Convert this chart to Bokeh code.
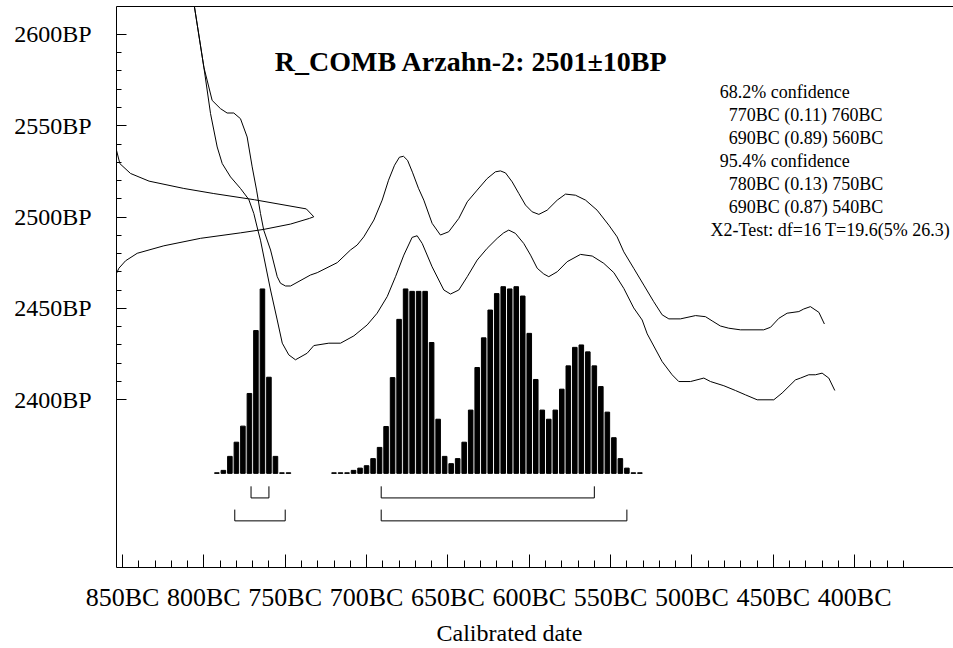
from bokeh.plotting import figure
from bokeh.models import Range1d, LinearAxis, FixedTicker, Label, Title
from bokeh.embed import file_html
from bokeh.resources import INLINE

# ---------------- data ----------------
# calibration curve, upper line (years BC, BP)
upper_bc = [806, 800.0, 794.9, 789.8, 785.7, 781.6, 777.5, 773.4, 770.3, 767.6, 765.2, 763.2,
            759.0, 754.9, 752.9, 749.8, 746.7, 734.5, 730.3, 718.0, 709.9, 705.8, 701.7, 695.5,
            690.4, 686.5, 682.8, 679.8, 677.3, 674.8, 671.8, 668.1, 664.8, 659.7, 654.6, 649.5,
            643.3, 638.1, 632.0, 625.9, 620.8, 617.7, 614.6, 610.5, 606.4, 602.3, 598.2, 594.1,
            589.0, 582.8, 577.7, 571.6, 565.4, 558.3, 551.1, 546.0, 541.9, 535.8, 529.6, 523.5,
            518.3, 514.2, 507.1, 497.8, 491.7, 487.6, 482.5, 477.4, 470.2, 455.9, 451.7, 446.6,
            441.5, 434.3, 431.3, 427.2, 422.0, 418.6]
upper_bp = [2616.4, 2582.1, 2563.9, 2559.4, 2557.0, 2557.0, 2553.9, 2543.9, 2527.5, 2514.8, 2502.0, 2492.9,
            2482.0, 2467.4, 2463.8, 2462.3, 2462.3, 2468.3, 2469.6, 2475.1, 2482.0, 2484.7, 2489.2, 2498.4,
            2509.3, 2520.2, 2528.4, 2532.8, 2533.3, 2531.1, 2524.6, 2515.8, 2509.3, 2496.6, 2490.2, 2492.0,
            2499.3, 2508.4, 2514.8, 2521.1, 2524.8, 2525.3, 2524.2, 2519.3, 2512.9, 2506.6, 2502.9, 2501.5,
            2503.8, 2509.3, 2512.6, 2512.0, 2509.3, 2503.8, 2495.6, 2489.2, 2481.0, 2472.0, 2462.8, 2453.7,
            2446.5, 2444.3, 2444.3, 2446.1, 2445.5, 2443.2, 2440.4, 2439.2, 2438.3, 2438.3, 2439.7, 2444.6,
            2447.4, 2448.3, 2449.7, 2451.0, 2447.9, 2441.5]

# calibration curve, lower line
lower_bc = [806, 800.0, 795.9, 791.8, 788.7, 783.6, 777.5, 772.4, 769.3, 766.8, 765.2, 759.0,
            754.9, 751.8, 747.8, 743.7, 736.5, 732.4, 723.2, 716.0, 707.8, 699.6, 693.5, 687.3,
            682.2, 677.1, 672.0, 668.9, 665.8, 659.7, 652.5, 648.4, 643.3, 638.1, 632.0, 625.9,
            619.7, 615.7, 612.6, 608.5, 603.4, 599.2, 595.1, 591.1, 588.0, 582.8, 576.7, 568.5,
            561.3, 554.2, 548.0, 541.9, 535.8, 530.6, 527.5, 518.3, 512.2, 508.1, 500.9, 492.7,
            488.6, 480.4, 473.3, 467.1, 459.9, 449.7, 444.6, 436.4, 433.3, 428.2, 424.1, 420.0,
            415.9, 412.2]
lower_bp = [2616.4, 2582.1, 2556.7, 2538.4, 2529.3, 2522.0, 2515.7, 2509.7, 2502.0, 2492.9, 2487.4, 2460.1,
            2443.7, 2431.0, 2424.6, 2421.9, 2425.5, 2429.7, 2431.0, 2431.0, 2435.0, 2441.0, 2447.4, 2456.5,
            2467.4, 2479.2, 2488.9, 2489.8, 2485.6, 2472.8, 2460.1, 2457.9, 2460.1, 2467.4, 2476.5, 2482.9,
            2488.4, 2491.4, 2492.9, 2491.1, 2485.6, 2479.2, 2472.0, 2468.9, 2467.4, 2470.1, 2475.6, 2479.6,
            2478.7, 2474.7, 2469.6, 2461.0, 2450.3, 2443.7, 2436.1, 2420.9, 2413.7, 2410.0, 2410.0, 2411.9,
            2410.0, 2407.7, 2405.1, 2402.7, 2400.0, 2400.0, 2403.7, 2410.9, 2411.9, 2413.7, 2413.7, 2414.6,
            2411.9, 2405.1]

# radiocarbon date distribution (BP, relative density)
gauss_bp = [2536.6, 2529.3, 2523.9, 2519.7, 2515.7, 2512.9, 2509.5, 2504.5, 2500.2, 2499.3,
            2496.2, 2493.3, 2491.4, 2488.4, 2484.3, 2480.2, 2476.1, 2472.0, 2469.2]
gauss_dens = [0.0, 0.017, 0.071, 0.165, 0.341, 0.493, 0.70, 0.962, 1.0, 0.978,
              0.882, 0.747, 0.629, 0.426, 0.240, 0.105, 0.046, 0.012, 0.0]

# calibrated probability histogram (years BC, relative probability)
hist_bc = [792, 788, 784, 780, 776, 772, 768, 764, 760, 756, 752, 748,
           720, 716, 712, 708, 704, 700, 696, 692, 688, 684, 680, 676, 672, 668, 664,
           660, 656, 652, 648, 644, 640, 636, 632, 628, 624, 620, 616, 612, 608, 604,
           600, 596, 592, 588, 584, 580, 576, 572, 568, 564, 560, 556, 552, 548, 544,
           540, 536, 532]
hist_p = [0.003, 0.016, 0.091, 0.167, 0.253, 0.428, 0.765, 0.988, 0.515, 0.091, 0.003, 0.003,
          0.003, 0.003, 0.003, 0.016, 0.028, 0.041, 0.079, 0.139, 0.251, 0.513, 0.825, 0.988, 0.975, 0.975, 0.975,
          0.701, 0.290, 0.091, 0.052, 0.079, 0.167, 0.339, 0.567, 0.726, 0.875, 0.963, 1.0, 0.988, 1.0, 0.950,
          0.750, 0.503, 0.339, 0.290, 0.339, 0.451, 0.576, 0.675, 0.688, 0.651, 0.576, 0.465, 0.328, 0.191, 0.079,
          0.028, 0.003, 0.003]

# highest posterior density ranges (years BC)
ranges_68 = [(771, 760), (691, 560)]
ranges_95 = [(781, 750), (691, 540)]

x_major = [850, 800, 750, 700, 650, 600, 550, 500, 450, 400]
x_minor = [850, 840, 830, 820, 810, 800, 790, 780, 770, 760, 750, 740, 730, 720, 710, 700,
           690, 680, 670, 660, 650, 640, 630, 620, 610, 600, 590, 580, 570, 560, 550, 540,
           530, 520, 510, 500, 490, 480, 470, 460, 450, 440, 430, 420, 410, 400, 390, 380, 370]
y_major = [2400, 2450, 2500, 2550, 2600]
y_minor = [2400, 2410, 2420, 2430, 2440, 2450, 2460, 2470, 2480, 2490, 2500,
           2510, 2520, 2530, 2540, 2550, 2560, 2570, 2580, 2590, 2600]

title_text = "R_COMB Arzahn-2: 2501\u00b110BP"
conf_lines = ["68.2% confidence", "770BC (0.11) 760BC", "690BC (0.89) 560BC",
              "95.4% confidence", "780BC (0.13) 750BC", "690BC (0.87) 540BC",
              "X2-Test: df=16 T=19.6(5% 26.3)"]
x_label = "Calibrated date"

# ---------------- figure ----------------
FONT = "Liberation Serif"
p = figure(width=953, height=648, output_backend="svg", toolbar_location=None,
           x_range=Range1d(-853.69, -339.25), y_range=Range1d(2308.2, 2615.3),
           x_axis_location=None, y_axis_location=None,
           min_border=0, min_border_left=116, min_border_right=0,
           min_border_top=6, min_border_bottom=80)
p.xgrid.visible = False
p.ygrid.visible = False
p.outline_line_color = None
p.background_fill_color = "white"
p.border_fill_color = "white"

p.extra_y_ranges = {"prob": Range1d(-0.5043, 2.5011)}
p.extra_x_ranges = {"dens": Range1d(0, 837 / 197.3)}

xaxis = LinearAxis(ticker=FixedTicker(ticks=[-v for v in x_major], minor_ticks=[-v for v in x_minor]),
                   major_label_overrides={-v: f"{v}BC" for v in x_major},
                   major_tick_in=13, major_tick_out=0, minor_tick_in=7, minor_tick_out=0,
                   major_label_standoff=15, major_label_text_font=FONT,
                   major_label_text_font_size="26px", major_label_text_color="black",
                   axis_line_color="black", major_tick_line_color="black", minor_tick_line_color="black")
p.add_layout(xaxis, "below")

p.add_layout(Title(text=x_label, align="left", offset=320, standoff=6,
                   text_font=FONT, text_font_size="24px", text_font_style="normal",
                   text_color="black"), "below")

yaxis = LinearAxis(ticker=FixedTicker(ticks=y_major, minor_ticks=y_minor),
                   major_label_overrides={v: f"{v}BP" for v in y_major},
                   major_tick_in=10, major_tick_out=0, minor_tick_in=5, minor_tick_out=0,
                   major_label_standoff=25, major_label_text_font=FONT,
                   major_label_text_font_size="24px", major_label_text_color="black",
                   axis_line_color="black", major_tick_line_color="black", minor_tick_line_color="black")
p.add_layout(yaxis, "left")

top_line = LinearAxis(ticker=FixedTicker(ticks=[]), major_tick_in=0, major_tick_out=0,
                      minor_tick_in=0, minor_tick_out=0, major_label_standoff=0,
                      major_label_text_font_size="0px", axis_line_color="black")
p.add_layout(top_line, "above")

# calibration curve
p.line(x=[-v for v in upper_bc], y=upper_bp, line_color="black", line_width=1)
p.line(x=[-v for v in lower_bc], y=lower_bp, line_color="black", line_width=1)

# radiocarbon measurement distribution on the BP axis
p.line(x=gauss_dens, y=gauss_bp, x_range_name="dens", line_color="black", line_width=1)

# calibrated distribution
p.vbar(x=[-v for v in hist_bc], width=2.8, top=hist_p, bottom=0, y_range_name="prob",
       fill_color="black", line_color="black", line_width=1)

# ranges
def brackets(rngs, top, bot):
    xs, ys = [], []
    for a, b in rngs:
        xs.append([-a, -a, -b, -b])
        ys.append([top, bot, bot, top])
    return xs, ys

xs, ys = brackets(ranges_68, -0.0695, -0.1316)
p.multi_line(xs=xs, ys=ys, y_range_name="prob", line_color="black", line_width=1)
xs, ys = brackets(ranges_95, -0.194, -0.2545)
p.multi_line(xs=xs, ys=ys, y_range_name="prob", line_color="black", line_width=1)

# texts
p.add_layout(Label(x=-635.5, y=2585.2, text=title_text, text_align="center",
                   text_baseline="alphabetic", text_font=FONT, text_font_style="bold",
                   text_font_size="28px", text_color="black"))
conf_x = [-482.9, -477.4, -477.4, -482.9, -477.4, -477.4, -488.6]
conf_y = [2568.5, 2555.7, 2543.5, 2530.8, 2518.2, 2505.6, 2492.9]
for t, xx, yy in zip(conf_lines, conf_x, conf_y):
    p.add_layout(Label(x=xx, y=yy, text=t, text_align="left", text_baseline="alphabetic",
                       text_font=FONT, text_font_size="18px", text_color="black"))

open("out.html", "w").write(file_html(p, INLINE))
